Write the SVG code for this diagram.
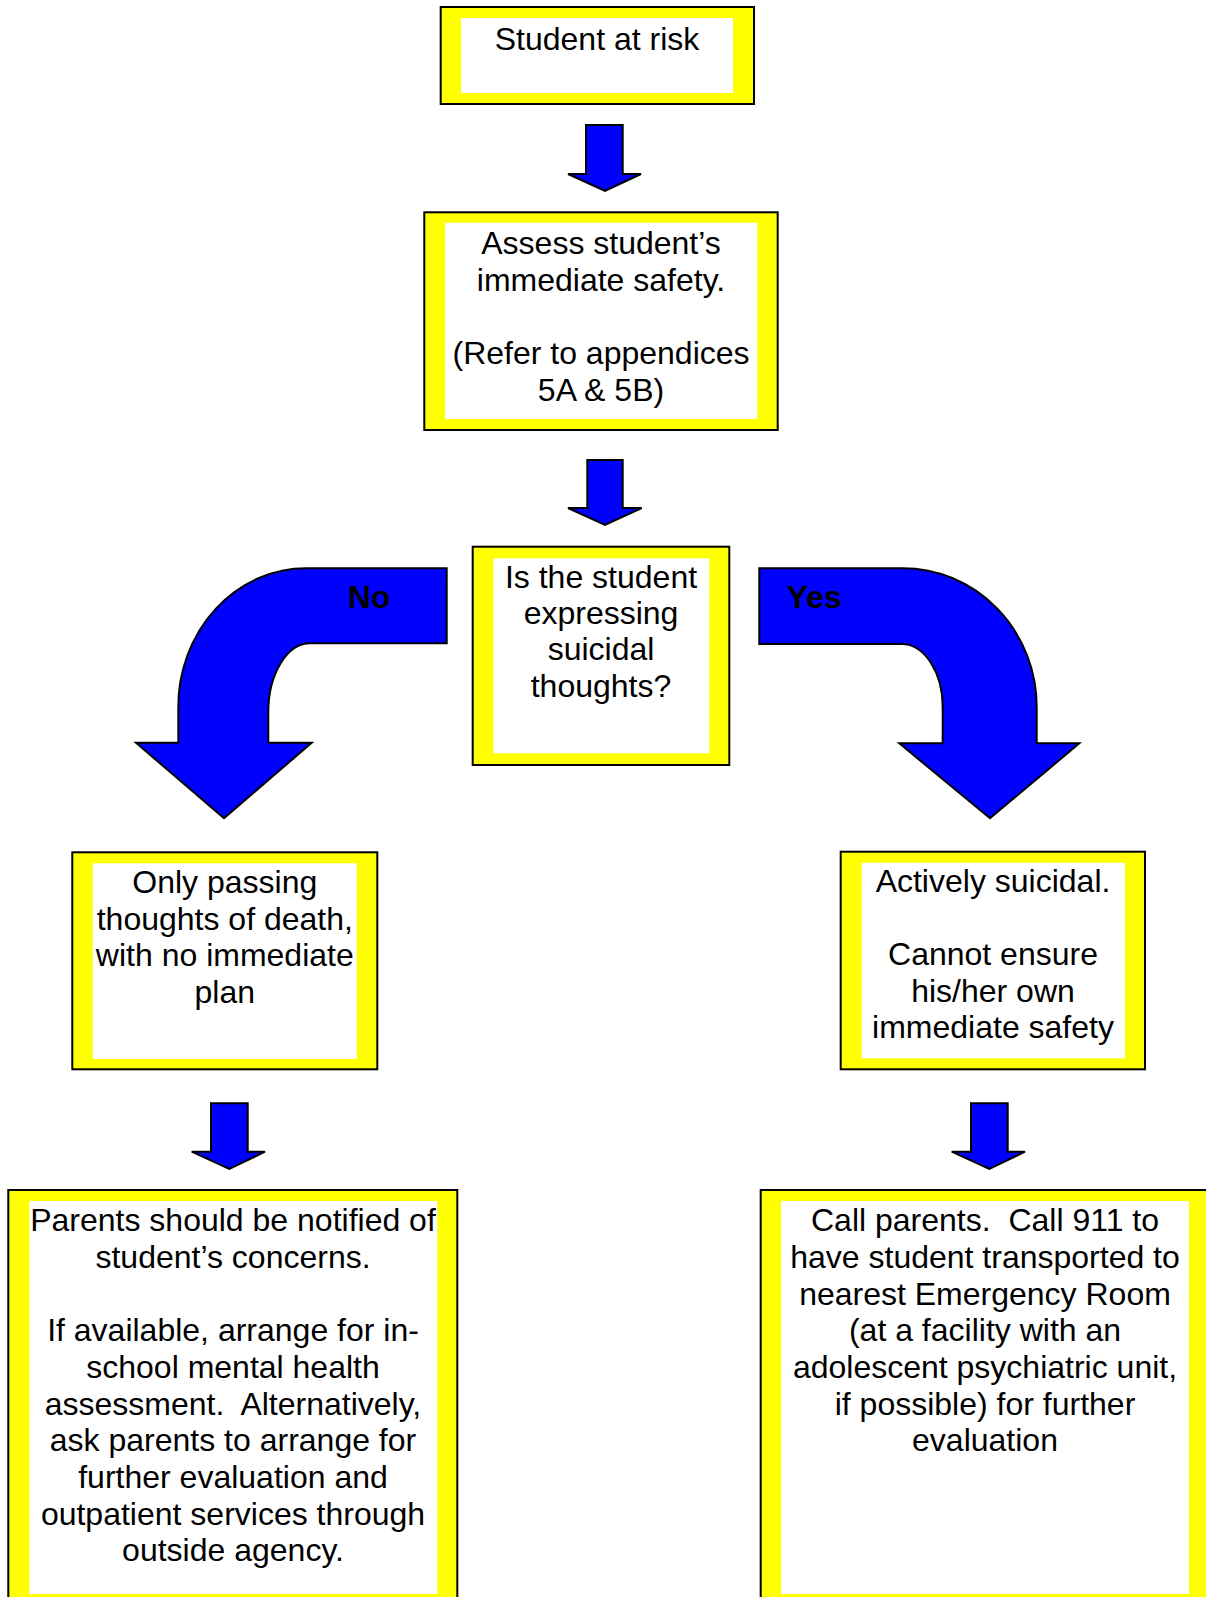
<svg xmlns="http://www.w3.org/2000/svg" width="1206" height="1597" viewBox="0 0 1206 1597">
<style>
.outer{fill:#FFFF00;stroke:#000;stroke-width:2}
.inner{fill:#FFFFFF;stroke:none}
.arrow{fill:#0000FF;stroke:#000;stroke-width:2;stroke-linejoin:miter}
.t{font-family:"Liberation Sans",Arial,sans-serif;font-size:32px;fill:#000;text-anchor:middle;white-space:pre}
.lbl{font-family:"Liberation Sans",Arial,sans-serif;font-size:32px;font-weight:bold;fill:#000;text-anchor:middle}
</style>
<rect width="1206" height="1597" fill="#FFFFFF"/>
<g id="connectors">
<path class="arrow" d="M586,125 H622.7 V174 H641 L605,191 L568,174 H586 Z"/>
<path class="arrow" d="M587.3,460 H622.7 V508 H641.7 L605,525 L568,508 H587.3 Z"/>
<path class="arrow" d="M446.7,568.3 H306 A127.7,138.7 0 0 0 178.3,707 V742.7 H136 L224,818.3 L311.7,742.7 H268.3 V712 A41.7,68.7 0 0 1 310,643.3 H446.7 Z"/>
<path class="arrow" d="M759.3,568.3 H903 A133.7,138.7 0 0 1 1036.7,707 V743.3 H1079.3 L990,818.3 L899.3,743.3 H942.7 V707 A41,63 0 0 0 901.7,644 H759.3 Z"/>
<text class="lbl" x="369" y="608">No</text>
<text class="lbl" x="814" y="608">Yes</text>
<path class="arrow" d="M211,1103.3 H247.7 V1151.7 H265 L229.3,1169 L191.7,1151.7 H211 Z"/>
<path class="arrow" d="M971,1103.3 H1007.7 V1151.7 H1025 L989.3,1169 L951.7,1151.7 H971 Z"/>
</g>
<g id="n1">
<rect class="outer" x="440.7" y="7" width="313.3" height="97"/>
<rect class="inner" x="461" y="18" width="272" height="75"/>
<text class="t" x="597" y="49.5">Student at risk</text>
</g>
<g id="n2">
<rect class="outer" x="424.3" y="212.3" width="353.4" height="217.7"/>
<rect class="inner" x="445" y="222.7" width="312.3" height="196.3"/>
<text class="t" x="601" y="254">Assess student’s</text>
<text class="t" x="601" y="290.5">immediate safety.</text>
<text class="t" x="601" y="364">(Refer to appendices</text>
<text class="t" x="601" y="400.5">5A &amp; 5B)</text>
</g>
<g id="n3">
<rect class="outer" x="472.7" y="546.7" width="256.6" height="218.3"/>
<rect class="inner" x="493.3" y="558.3" width="216" height="195"/>
<text class="t" x="601" y="588">Is the student</text>
<text class="t" x="601" y="624">expressing</text>
<text class="t" x="601" y="660">suicidal</text>
<text class="t" x="601" y="696.5">thoughts?</text>
</g>
<g id="n4">
<rect class="outer" x="72.3" y="852.3" width="305" height="217"/>
<rect class="inner" x="92.7" y="863.3" width="264" height="195.7"/>
<text class="t" x="224.8" y="893">Only passing</text>
<text class="t" x="224.8" y="929.7">thoughts of death,</text>
<text class="t" x="224.8" y="966.3">with no immediate</text>
<text class="t" x="224.8" y="1003">plan</text>
</g>
<g id="n5">
<rect class="outer" x="840.7" y="851.7" width="304.3" height="217.6"/>
<rect class="inner" x="861.7" y="862.7" width="263.3" height="195.6"/>
<text class="t" x="993" y="891.5">Actively suicidal.</text>
<text class="t" x="993" y="964.8">Cannot ensure</text>
<text class="t" x="993" y="1001.5">his/her own</text>
<text class="t" x="993" y="1038.2">immediate safety</text>
</g>
<g id="n6">
<rect class="outer" x="8.3" y="1190" width="449" height="420"/>
<rect class="inner" x="29.3" y="1201" width="408" height="393"/>
<text class="t" x="233" y="1231.3">Parents should be notified of</text>
<text class="t" x="233" y="1268">student’s concerns.</text>
<text class="t" x="233" y="1341.3">If available, arrange for in-</text>
<text class="t" x="233" y="1378">school mental health</text>
<text class="t" x="233" y="1414.6">assessment.  Alternatively,</text>
<text class="t" x="233" y="1451.3">ask parents to arrange for</text>
<text class="t" x="233" y="1488">further evaluation and</text>
<text class="t" x="233" y="1524.6">outpatient services through</text>
<text class="t" x="233" y="1561.3">outside agency.</text>
</g>
<g id="n7">
<rect class="outer" x="760.7" y="1190" width="449" height="420"/>
<rect class="inner" x="781" y="1201" width="408" height="393"/>
<text class="t" x="985" y="1231.3">Call parents.  Call 911 to</text>
<text class="t" x="985" y="1268">have student transported to</text>
<text class="t" x="985" y="1304.6">nearest Emergency Room</text>
<text class="t" x="985" y="1341.3">(at a facility with an</text>
<text class="t" x="985" y="1378">adolescent psychiatric unit,</text>
<text class="t" x="985" y="1414.6">if possible) for further</text>
<text class="t" x="985" y="1451.3">evaluation</text>
</g>
</svg>
